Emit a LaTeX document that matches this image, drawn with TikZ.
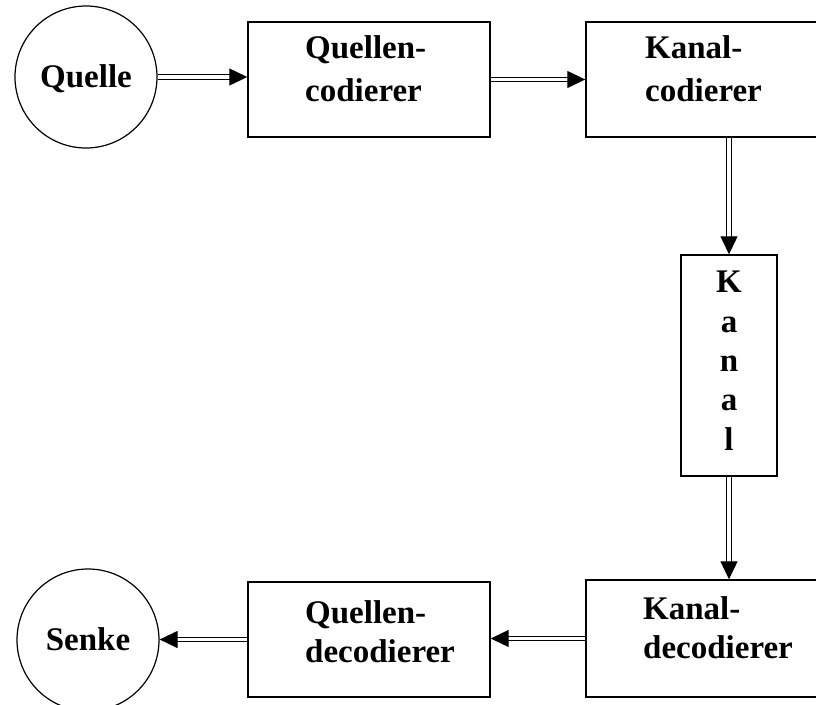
\documentclass[tikz,border=0pt]{standalone}
\usepackage{fontspec}
\setmainfont{Liberation Serif}[BoldFont={Liberation Serif Bold}]
\usetikzlibrary{arrows.meta}
\tikzset{
  box/.style={draw, line width=1.4pt, rectangle, inner sep=0pt},
  circ/.style={draw, line width=1.2pt, circle, minimum size=142pt, inner sep=0pt,
    text height=21pt, text depth=0pt, font=\bfseries\fontsize{33}{38}\selectfont},
  lbl/.style={inner sep=0pt, align=left, anchor=base west},
  toplbl/.style={lbl, font=\bfseries\fontsize{33}{43}\selectfont},
  botlbl/.style={lbl, font=\bfseries\fontsize{33}{39}\selectfont},
  vlbl/.style={inner sep=0pt, align=center, anchor=base, font=\bfseries\fontsize{33}{39.3}\selectfont},
  conn/.style={double, double distance=3.2pt, line width=1.1pt,
    -{Triangle[length=18pt,width=17pt]}}
}
\begin{document}
\begin{tikzpicture}[x=1pt,y=-1pt]
\useasboundingbox (0,0) rectangle (816,704);
\clip (0,0) rectangle (816,704);
\fill[white] (0,0) rectangle (816,704);
% nodes
\node[circ] (Quelle) at (86,77) {Quelle};
\node[circ] (Senke) at (88,640) {Senke};
\node[box, minimum width=242pt, minimum height=115pt] (Qc) at (369,79.5) {};
\node[box, minimum width=244pt, minimum height=115pt] (Kc) at (708,79.5) {};
\node[box, minimum width=96pt, minimum height=221pt] (Kanal) at (729,365.5) {};
\node[box, minimum width=244pt, minimum height=117pt] (Kd) at (708,638.5) {};
\node[box, minimum width=242pt, minimum height=115pt] (Qd) at (369,639.5) {};
% labels
\node[toplbl] (Qct) at (305,101) {Quellen-\\codierer};
\node[toplbl] (Kct) at (645,101) {Kanal-\\codierer};
\node[vlbl] (Kat) at (729,450) {K\\a\\n\\a\\l};
\node[botlbl] (Kdt) at (643,658) {Kanal-\\decodierer};
\node[botlbl] (Qdt) at (305,662) {Quellen-\\decodierer};
% connectors
\draw[conn] (Quelle.east) -- (Quelle.east -| Qc.west);
\draw[conn] (Qc.east) -- (Kc.west);
\draw[conn] (Kc.south -| Kanal.north) -- (Kanal.north);
\draw[conn] (Kanal.south) -- (Kd.north -| Kanal.south);
\draw[conn] (Kd.west) -- (Kd.west -| Qd.east);
\draw[conn] (Qd.west) -- (Qd.west -| Senke.east);
\end{tikzpicture}
\end{document}
